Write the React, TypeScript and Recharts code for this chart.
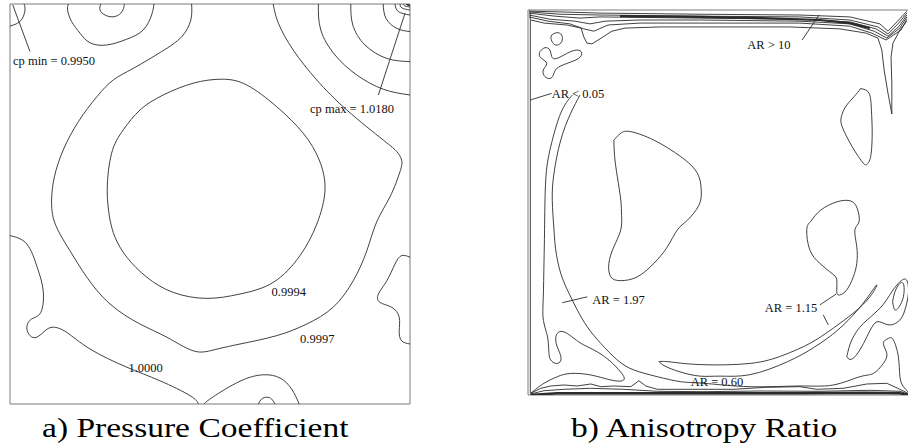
import { ComposedChart, Line, Scatter, XAxis, YAxis, ReferenceArea } from 'recharts';

// Cavity coordinates in % of side length (x to the right, y upwards)

// ---------- a) Pressure coefficient contours ----------
const cpMinArc = [[3.5, 100], [3.75, 98.5], [3, 96.25], [1.5, 95], [0, 94.5]];
const cpTopLobe = [[14.6, 100], [14.4, 98.5], [15.4, 95.6], [17.5, 92.7], [20, 90.3], [24.2, 89.75], [29.2, 91.2], [33.3, 93.5], [35.4, 97.25], [36, 100]];
const cpTopLoop = [[22.7, 100], [22.5, 98.5], [23.75, 97.25], [25.8, 96.8], [27.7, 97.7], [28.5, 99.3], [28.5, 100]];
const cp09997 = [
  [45.4, 100], [45.2, 96], [42.9, 91.8], [37.9, 88.1], [30.8, 83.9], [25.8, 81], [21.7, 76.8], [17.1, 70.6],
  [13.3, 63.5], [11.1, 56.8], [10.4, 51], [11.3, 45], [15, 38.3], [19.2, 31.7], [25, 25], [32.5, 20], [39.2, 16.7],
  [45.8, 13.3], [50.8, 13.5], [57.5, 15], [66.7, 17.1], [74.2, 20], [80.8, 24.2], [85.8, 30.8], [89.2, 38.3],
  [91.7, 45.6], [95, 51.8], [97.5, 58.1], [97.9, 61], [96.7, 63.1], [93.3, 66], [84.2, 73.5], [76.7, 81],
  [70.8, 88.5], [67.1, 95.2], [65.8, 100],
];
const cp09994 = [
  [25, 46], [24.3, 53.5], [25.4, 62.7], [28.3, 68.5], [32.5, 73.5], [38.3, 77.25], [45.8, 80.2], [52.9, 81.2],
  [59.2, 79.75], [66.7, 74.3], [73.3, 67.7], [77.3, 61], [78.75, 53.5], [76.7, 45], [72.5, 37.1], [65.8, 30.4],
  [57.5, 27.5], [49.2, 26.4], [40.8, 27.9], [34.2, 31.7], [29.2, 36.7], [26.25, 41.7], [25, 46],
];
const cp10000 = [
  [0, 42.1], [4.2, 40], [6.8, 34.2], [8.3, 28.3], [7.7, 22.9], [5.4, 21.25], [4.2, 19.2], [5, 17.1], [6.7, 16.7],
  [8.75, 18.3], [10.8, 19.2], [14.2, 17.9], [20, 13.75], [29.2, 9.2], [37.5, 5.8], [45, 2.1], [47.1, 0],
];
const cpBottomBump = [[48.5, 0], [50.8, 1.8], [57.5, 5.7], [63.3, 7.3], [67.5, 6.5], [70.4, 3.75], [72.3, 0]];
const cpBottomTiny = [[62.1, 0], [62.9, 1.25], [64.2, 1.7], [65.4, 1.25], [66.25, 0]];
const cpRightEdge = [[100, 36.7], [97.9, 37.1], [96.25, 35], [94.2, 30.8], [92.1, 27.5], [92.5, 25.4], [95.4, 24.2], [97.3, 21.7], [97.3, 18.3], [97.9, 15.8], [100, 15]];
const cpMaxRing1 = [[77.1, 100], [77.7, 93.5], [81.25, 87.25], [86.7, 82.25], [93.3, 78.7], [100, 77.25]];
const cpMaxRing2 = [[85.2, 100], [85.7, 94.75], [88.75, 89.75], [94.2, 86.4], [100, 85.6]];
const cpMaxRing3 = [[93.3, 100], [94, 96.4], [96.7, 93.9], [100, 93.1]];
const cpMaxRing4 = [[96.25, 100], [97.1, 98.1], [100, 97.25]];
const cpMaxRing5 = [[97.5, 100], [98, 99], [100, 98.5]];
const cpMaxRing6 = [[98.25, 100], [98.75, 99.5], [100, 99.25]];
const cpMaxRing7 = [[99.1, 100], [99.4, 99.8], [100, 99.6]];
const cpMinLeader = [[0.7, 99.75], [5, 88.1]];
const cpMaxLeader = [[98.75, 97.7], [92.1, 77.25]];

const cpLabels = [
  { x: 0.75, y: 84.75, text: 'cp min = 0.9950' },
  { x: 75, y: 72.7, text: 'cp max = 1.0180' },
  { x: 65.4, y: 27.1, text: '0.9994' },
  { x: 72.5, y: 15.25, text: '0.9997' },
  { x: 29.6, y: 7.9, text: '1.0000' },
];

// ---------- b) Anisotropy ratio contours ----------
const arWallLeft = [[0.6, 99.4], [0.6, 0.4]];
const arTop1 = [[0.26, 99.7], [8.31, 99.5], [18.7, 99.2], [44.7, 98.9], [70.6, 98.7], [83.6, 98.2], [91.4, 96.4], [93.5, 94.5], [95.8, 96.9], [98.4, 99.7]];
const arTop2 = [[0.26, 99.5], [8.31, 98.9], [18.7, 98.7], [44.7, 98.4], [70.6, 98.2], [83.6, 97.4], [90.9, 95.6], [93.5, 93.8], [96.1, 96.4], [98.4, 99.2]];
const arTop3 = [[0.26, 99.2], [7, 98.4], [13.5, 97.9], [18.7, 98.2], [44.7, 97.9], [70.6, 97.6], [83.6, 96.9], [90.4, 95.1], [93.5, 93.2], [96.4, 95.8], [98.4, 98.7]];
const arTop4 = [[0.26, 98.7], [5.7, 97.6], [12.2, 97.1], [16.1, 96.4], [20, 97.1], [29.1, 97.4], [44.7, 97.4], [70.6, 97.1], [83.6, 96.4], [89.9, 94.5], [93.2, 92.7], [96.6, 95.3], [98.4, 98.2]];
const arTop5 = [[0.26, 98.2], [5.2, 97.1], [10.9, 96.4], [14.5, 95.1], [17.1, 94.5], [20.8, 96.1], [29.1, 96.6], [44.7, 96.6], [70.6, 96.6], [83.6, 95.8], [89.3, 94], [93, 92.2], [96.9, 94.8], [98.4, 97.6]];
const arTop6 = [
  [0.78, 97.4], [4.2, 96.6], [10.1, 96.1], [13.8, 95.3], [14.5, 93], [15.3, 91.4], [16.6, 91.2], [19, 92.7], [21.8, 94.5],
  [25.2, 95.3], [34.3, 95.6], [51.2, 95.6], [68, 95.6], [81, 95.1], [87.8, 94], [90.9, 92.7], [91.9, 89.6], [92.5, 84.4],
  [93.5, 78.4], [94.5, 73], [94.5, 81], [94.3, 87.8], [94.8, 91.4], [96.6, 94.8], [98.4, 97.1],
];
const arTopCore = [[23.9, 98.4], [44.7, 98.2], [60.3, 97.9], [75.8, 97.4], [83.6, 96.6], [88.8, 95.3]];
const arCornerSmall = [[6.15, 93.5], [7.45, 94.1], [8.75, 93.5], [8.75, 91.75], [7.6, 90.9], [6.57, 91.3], [5.97, 92.6], [6.15, 93.5]];
const arCornerBlob = [
  [3.1, 89.2], [4.4, 90.2], [5.7, 89.6], [6.15, 87.9], [7.45, 87.4], [10.05, 88.7], [12.65, 89.6], [13.95, 88.9],
  [13.1, 87.4], [10.05, 86.1], [7.45, 84.8], [6.57, 83.1], [5.7, 82.2], [4.4, 82.7], [3.97, 84.4], [4.86, 86.1],
  [3.56, 87.4], [2.93, 88.3], [3.1, 89.2],
];
const arRightBlob = [
  [86.4, 79.6], [88.6, 78.35], [89.2, 74], [89.4, 68], [89, 61.9], [88.1, 60], [87.1, 60.2], [84.2, 64.5],
  [81.6, 69.7], [81.4, 72.3], [82.5, 74.9], [84.7, 77.5], [86.4, 79.6],
];
const arCentreBlob = [
  [22.3, 66.2], [24.1, 68], [26.7, 68.4], [32.7, 66.2], [39.7, 61.9], [44, 57.6], [45, 53.2], [44.4, 49.3],
  [41.4, 45.4], [38.8, 42.9], [36.2, 38.5], [32.7, 34.2], [28.4, 30.7], [24.1, 29.7], [21.5, 30.7], [21, 34.2],
  [22.3, 38.5], [24.1, 42.9], [24.3, 46.7], [24.1, 50.6], [23.2, 56.7], [22.5, 61.9], [22.3, 66.2],
];
const arLowerRightBlob = [
  [73.4, 45], [76, 48], [80.3, 50.2], [83.8, 50.4], [85.5, 48.5], [86, 45], [84.9, 42.9], [85.4, 38.5], [85.4, 34.2],
  [84.5, 30.7], [82.8, 27.3], [81, 26], [80.2, 26.8], [80.2, 29.9], [78.9, 31.6], [75.8, 34.2], [73.2, 37.7],
  [72.4, 42.9], [73.4, 45],
];
const ar197 = [
  [13.5, 77.9], [11.1, 73.2], [8.5, 66.2], [6.75, 57.6], [6.3, 50.6], [6.75, 42.9], [7.2, 37.7], [8.5, 31.6],
  [10.65, 26.4], [12.8, 22.1], [15.4, 17.7], [18.9, 13.4], [23.2, 9.1], [27.5, 6.5], [33.6, 4.75], [39.7, 3.45],
  [45.7, 3.04], [57.7, 2.16], [70.6, 2.34], [79.3, 2.6], [86.2, 4.75], [89.7, 5.6], [92.3, 8.2], [93.2, 10.8],
  [92.3, 13.4], [93.6, 14.7], [94.9, 14.3], [96.2, 9.9], [96.6, 4.75], [97.5, 2.16], [98.7, 0.86],
];
const arLeftLong = [
  [11.5, 77.9], [8.5, 73.2], [5.9, 64.5], [4.6, 55.8], [4.3, 42.9], [4.15, 34.2], [3.97, 25.5], [3.9, 20.3],
  [4.6, 16.9], [5.2, 14.3], [5.45, 10.8], [5.9, 9.1], [7.2, 8.2], [8.5, 8.9], [8.3, 10.8], [7.6, 12.5], [7.2, 14.3],
  [7.6, 16], [9.35, 16.4], [11.95, 14.7], [14.5, 13], [18, 11.2], [21.5, 8.65], [23.6, 6.5], [24.9, 4.75],
  [24.5, 3.7], [21.5, 3.9], [16.3, 5.2], [11.1, 5.6], [7.6, 4.75], [4.15, 3.04], [2, 1.48], [0.7, 0.44],
];
const ar115 = [
  [34, 8.7], [36.9, 8.6], [44.7, 7.9], [57.7, 8.2], [66.2, 10.3], [73.2, 13.4], [79.2, 17.3], [84.4, 21.2],
  [88.8, 25.5], [90.6, 28.6], [88.3, 25.5], [85.2, 21.6], [80.5, 16.9], [74.5, 12.5], [67.3, 8.6], [57.7, 5.3],
  [49.9, 4.9], [44.7, 4.9], [39.5, 6], [35.6, 7.5], [34, 8.7],
];
const arRightNarrow = [[94.7, 24.2], [95.3, 26.8], [96.6, 29], [97.6, 28.6], [97.5, 25.5], [96.4, 22.9], [95.3, 22.1], [94.7, 24.2]];
const arRightLoop = [
  [82.8, 9.95], [84.1, 14.3], [87.1, 18.6], [91.4, 22.5], [94.5, 26.8], [96.6, 29.4], [98.3, 29.9], [98.8, 26.4],
  [97.9, 22.1], [96.6, 19.5], [94, 18.2], [91.4, 19], [89.7, 18.2], [88, 15.1], [86.2, 11.7], [84.1, 9.3], [82.8, 9.95],
];
const arBottom1 = [
  [0.7, 0.44], [3.3, 1.74], [5.9, 2.34], [9.35, 2.6], [12.8, 2.34], [16.3, 2.86], [18.9, 2.16], [22.3, 2.34],
  [26.7, 2.16], [28.8, 3.7], [30.6, 2.34], [33.6, 1.48], [37.9, 1.48], [44.7, 1.48], [53.3, 1.48], [62, 2],
  [70.6, 2.16], [75, 1.48], [81.9, 1.74], [88, 2.86], [93.2, 3.04], [96.6, 1.48], [98.7, 0.44],
];
const arBottom2 = [[0.7, 0.26], [4.15, 1.12], [9.35, 1.48], [16.3, 1.74], [24.9, 1.48], [33.6, 0.96], [45.7, 0.86], [60.3, 1.04], [75.8, 0.96], [88.8, 1.22], [96.6, 0.96], [98.7, 0.26]];
const arBottomCore = [[0.7, 0], [7.6, 0.44], [24.9, 0.44], [45.7, 0.44], [70.6, 0.44], [88, 0.6], [96.6, 0.44], [98.7, 0]];
const arLeaderLow = [[0.52, 76.6], [6.15, 78.35]];
const arLeaderHigh = [[71.2, 92.2], [75.6, 98.7]];
const arLeader197 = [[8.9, 23.97], [15.4, 25.5]];
const arLeader115a = [[75.8, 23.4], [80, 26.2]];
const arLeader115b = [[76.7, 20.8], [78, 18.2]];

const arLabels = [
  { x: 56.95, y: 89.9, text: 'AR > 10' },
  { x: 6.15, y: 77.05, text: 'AR < 0.05' },
  { x: 16.7, y: 23.6, text: 'AR = 1.97' },
  { x: 61.5, y: 21.6, text: 'AR = 1.15' },
  { x: 42.25, y: 2.4, text: 'AR = 0.60' },
];

type Pair = number[];
type Series = { id: string; pts: Pair[]; curve?: 'natural' | 'linear'; width?: number };

const seriesA: Series[] = [
  { id: 'cpMinArc', pts: cpMinArc },
  { id: 'cpTopLobe', pts: cpTopLobe },
  { id: 'cpTopLoop', pts: cpTopLoop },
  { id: 'cp09997', pts: cp09997 },
  { id: 'cp09994', pts: cp09994 },
  { id: 'cp10000', pts: cp10000 },
  { id: 'cpBottomBump', pts: cpBottomBump },
  { id: 'cpBottomTiny', pts: cpBottomTiny },
  { id: 'cpRightEdge', pts: cpRightEdge },
  { id: 'cpMaxRing1', pts: cpMaxRing1 },
  { id: 'cpMaxRing2', pts: cpMaxRing2 },
  { id: 'cpMaxRing3', pts: cpMaxRing3 },
  { id: 'cpMaxRing4', pts: cpMaxRing4 },
  { id: 'cpMaxRing5', pts: cpMaxRing5 },
  { id: 'cpMaxRing6', pts: cpMaxRing6 },
  { id: 'cpMaxRing7', pts: cpMaxRing7, width: 1.6 },
  { id: 'cpMinLeader', pts: cpMinLeader, curve: 'linear' },
  { id: 'cpMaxLeader', pts: cpMaxLeader, curve: 'linear' },
];

const seriesB: Series[] = [
  { id: 'arWallLeft', pts: arWallLeft, curve: 'linear' },
  { id: 'arTop1', pts: arTop1, curve: 'linear' },
  { id: 'arTop2', pts: arTop2, curve: 'linear' },
  { id: 'arTop3', pts: arTop3, curve: 'linear' },
  { id: 'arTop4', pts: arTop4, curve: 'linear' },
  { id: 'arTop5', pts: arTop5, curve: 'linear' },
  { id: 'arTop6', pts: arTop6, curve: 'linear' },
  { id: 'arTopCore', pts: arTopCore, curve: 'linear', width: 2.2 },
  { id: 'arCornerSmall', pts: arCornerSmall },
  { id: 'arCornerBlob', pts: arCornerBlob },
  { id: 'arRightBlob', pts: arRightBlob },
  { id: 'arCentreBlob', pts: arCentreBlob },
  { id: 'arLowerRightBlob', pts: arLowerRightBlob },
  { id: 'ar197', pts: ar197 },
  { id: 'arLeftLong', pts: arLeftLong },
  { id: 'ar115', pts: ar115 },
  { id: 'arRightNarrow', pts: arRightNarrow },
  { id: 'arRightLoop', pts: arRightLoop },
  { id: 'arBottom1', pts: arBottom1, curve: 'linear' },
  { id: 'arBottom2', pts: arBottom2, curve: 'linear' },
  { id: 'arBottomCore', pts: arBottomCore, curve: 'linear', width: 2.4 },
  { id: 'arLeaderLow', pts: arLeaderLow, curve: 'linear' },
  { id: 'arLeaderHigh', pts: arLeaderHigh, curve: 'linear' },
  { id: 'arLeader197', pts: arLeader197, curve: 'linear' },
  { id: 'arLeader115a', pts: arLeader115a, curve: 'linear' },
  { id: 'arLeader115b', pts: arLeader115b, curve: 'linear' },
];

const toPts = (arr: Pair[]) => arr.map(([x, y]) => ({ x, y }));

const LINE_COLOR = '#2b2b2b';

// eslint-disable-next-line @typescript-eslint/no-explicit-any
const renderLabel = (props: any) => (
  <text
    x={props.cx}
    y={props.cy}
    fontFamily="'Liberation Serif', serif"
    fontSize={12.5}
    fill="#111"
  >
    {props.payload.text}
  </text>
);

interface PanelProps {
  series: Series[];
  labels: { x: number; y: number; text: string }[];
  width: number;
  height: number;
  margin: { top: number; right: number; bottom: number; left: number };
}

function ContourPanel({ series, labels, width, height, margin }: PanelProps) {
  return (
    <ComposedChart width={width} height={height} margin={margin}>
      <XAxis type="number" dataKey="x" domain={[0, 100]} hide allowDataOverflow />
      <YAxis type="number" dataKey="y" domain={[0, 100]} hide allowDataOverflow />
      <ReferenceArea x1={0} x2={100} y1={0} y2={100} fill="none" stroke="#7a7a7a" strokeWidth={1} ifOverflow="visible" />
      {series.map((s) => (
        <Line
          key={s.id}
          name={s.id}
          data={toPts(s.pts)}
          dataKey="y"
          type={s.curve ?? 'natural'}
          stroke={LINE_COLOR}
          strokeWidth={s.width ?? 0.9}
          dot={false}
          activeDot={false}
          legendType="none"
          isAnimationActive={false}
        />
      ))}
      <Scatter data={labels} dataKey="y" shape={renderLabel} isAnimationActive={false} />
    </ComposedChart>
  );
}

// captions are set in a serif face, widened to the look of the original typesetting
const captionStyle: React.CSSProperties = {
  position: 'absolute',
  top: 415,
  fontFamily: "'Liberation Serif', serif",
  fontSize: 26.5,
  lineHeight: '26.5px',
  color: '#000',
  whiteSpace: 'nowrap',
  transform: 'scaleX(1.265)',
  transformOrigin: 'left top',
};

export default function App() {
  return (
    <div style={{ position: 'fixed', left: 0, top: 0, width: 908, height: 448, overflow: 'hidden', background: '#fff' }}>
      <div style={{ position: 'absolute', left: 0, top: 0 }}>
        <ContourPanel
          series={seriesA}
          labels={cpLabels}
          width={420}
          height={414}
          margin={{ top: 4, right: 10, bottom: 10, left: 10 }}
        />
      </div>
      <div style={{ position: 'absolute', left: 518, top: 0 }}>
        <ContourPanel
          series={seriesB}
          labels={arLabels}
          width={405}
          height={405}
          margin={{ top: 10, right: 10, bottom: 10, left: 10 }}
        />
      </div>
      <div style={{ ...captionStyle, left: 42 }}>a) Pressure Coefficient</div>
      <div style={{ ...captionStyle, left: 571 }}>b) Anisotropy Ratio</div>
    </div>
  );
}
